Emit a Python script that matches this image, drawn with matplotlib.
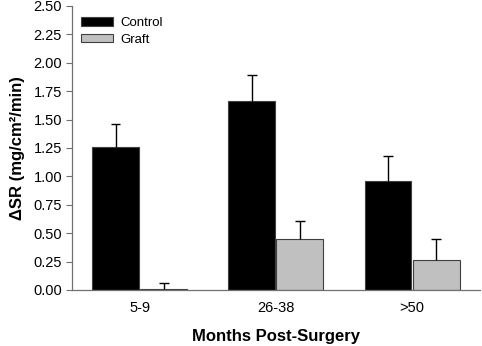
import numpy as np
import matplotlib.pyplot as plt

plt.rcParams['font.family'] = ['Liberation Sans', 'DejaVu Sans']

groups = ['5-9', '26-38', '>50']
control = np.array([1.26, 1.66, 0.96])
control_err = np.array([0.20, 0.23, 0.22])
graft = np.array([0.01, 0.45, 0.26])
graft_err = np.array([0.05, 0.16, 0.19])

fig = plt.figure(figsize=(4.82, 3.46), dpi=100)
ax = fig.add_axes([0.149, 0.162, 0.847, 0.821])

ind = np.arange(len(groups))
width = 0.345
gap = 0.008
axis_col = '#707070'
cap = 0.034


def upper_err(x, y, e):
    # only the upper half of the error bar, like the original
    ax.vlines(x, y, y + e, color='black', linewidth=1.0, zorder=3)
    ax.hlines(y + e, x - cap, x + cap, color='black', linewidth=1.0, zorder=3)


xc = ind - width/2 - gap/2
xg = ind + width/2 + gap/2
ax.bar(xc, control, width, color='black', edgecolor='#404040', linewidth=0.8, label='Control')
ax.bar(xg, graft, width, color='#c0c0c0', edgecolor='#404040', linewidth=0.8, label='Graft')
upper_err(xc, control, control_err)
upper_err(xg, graft, graft_err)

ax.set_xlim(-0.5, 2.5)
ax.set_ylim(0, 2.5)
yt = np.arange(0, 2.51, 0.25)
ax.set_yticks(yt)
ax.set_yticklabels(['%.2f' % v for v in yt], fontsize=10.5)
ax.set_xticks(ind)
ax.set_xticklabels(groups, fontsize=10.5)
ax.tick_params(axis='x', length=0, pad=8)
ax.tick_params(axis='y', direction='out', length=4, color=axis_col, width=0.8, pad=3)

for s in ['top', 'right']:
    ax.spines[s].set_visible(False)
for s in ['left', 'bottom']:
    ax.spines[s].set_color(axis_col)
    ax.spines[s].set_linewidth(0.9)
    ax.spines[s].set_zorder(4)

ax.set_xlabel('Months Post-Surgery', fontsize=12, fontweight='bold', labelpad=10)
ax.set_ylabel('ΔSR (mg/cm²/min)', fontsize=12, fontweight='bold', labelpad=6)

ax.legend(loc='upper left', bbox_to_anchor=(81/482, 1 - 17/346), bbox_transform=fig.transFigure,
          frameon=False, fontsize=9.5, borderpad=0, borderaxespad=0,
          handlelength=2.4, handleheight=0.65, handletextpad=0.6, labelspacing=0.35)

plt.savefig('out.png', dpi=100)
